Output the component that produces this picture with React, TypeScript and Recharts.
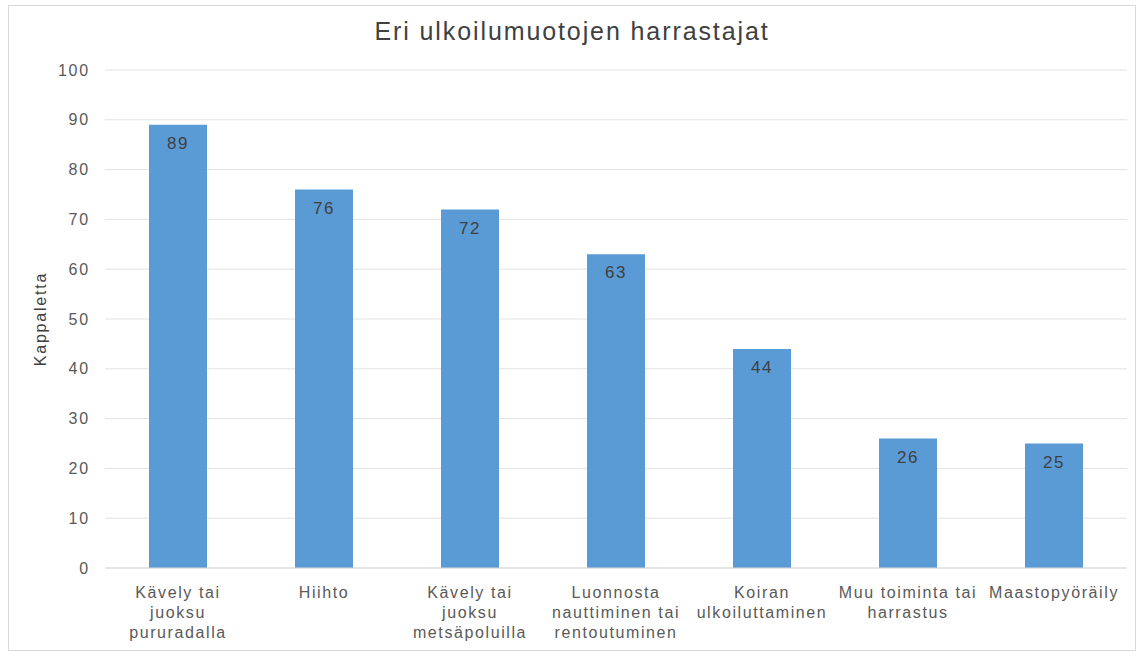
import React from 'react';
import { BarChart, Bar, XAxis, YAxis, CartesianGrid, LabelList, Label } from 'recharts';

const categories = [
  'Kävely tai\njuoksu\npururadalla',
  'Hiihto',
  'Kävely tai\njuoksu\nmetsäpoluilla',
  'Luonnosta\nnauttiminen tai\nrentoutuminen',
  'Koiran\nulkoiluttaminen',
  'Muu toiminta tai\nharrastus',
  'Maastopyöräily',
];
const values = [89, 76, 72, 63, 44, 26, 25];
const yTicks = [0, 10, 20, 30, 40, 50, 60, 70, 80, 90, 100];

const data = categories.map((c, i) => ({ name: c, value: values[i] }));

const FONT = '"Liberation Sans", Arial, sans-serif';

const XTick = (props: any) => {
  const { x, y, payload } = props;
  const lines = String(payload.value).split('\n');
  return (
    <text x={x} y={y} textAnchor="middle" fill="#595959" fontSize={16} fontFamily={FONT} style={{ letterSpacing: '1.6px' }}>
      {lines.map((l, i) => (
        <tspan key={i} x={x} dy={i === 0 ? 22 : 20}>{l}</tspan>
      ))}
    </text>
  );
};

export default function App() {
  return (
    <div style={{ position: 'absolute', left: 0, top: 0, width: 1144, height: 656, background: '#fff' }}>
      <div style={{ position: 'absolute', left: 8, top: 5, width: 1128, height: 646, border: '1px solid #d9d9d9', boxSizing: 'border-box' }} />
      <div style={{ position: 'absolute', left: 0, top: 17, width: 1144, textAlign: 'center', fontFamily: FONT, fontSize: 25, letterSpacing: '1.9px', color: '#404040', lineHeight: '29px' }}>
        Eri ulkoilumuotojen harrastajat
      </div>
      <div style={{ position: 'absolute', left: 0, top: 0 }}>
        <BarChart width={1144} height={656} data={data} margin={{ top: 70, right: 17, bottom: 8, left: 45 }} barSize={58}>
          <CartesianGrid vertical={false} stroke="#e3e3e3" />
          <XAxis dataKey="name" interval={0} height={80} tickLine={false} axisLine={{ stroke: '#d9d9d9' }} tick={<XTick />} />
          <YAxis
            domain={[0, 100]}
            ticks={yTicks}
            width={60}
            tickLine={false}
            axisLine={false}
            tickMargin={9}
            tick={{ fill: '#595959', fontSize: 16, fontFamily: FONT, style: { letterSpacing: '1.8px' } }}
          >
            <Label value="Kappaletta" angle={-90} position="insideLeft" dx={-10} style={{ textAnchor: 'middle', fill: '#404040', fontSize: 16, fontFamily: FONT, letterSpacing: '1.8px' }} />
          </YAxis>
          <Bar dataKey="value" fill="#5B9BD5" isAnimationActive={false}>
            <LabelList dataKey="value" position="insideTop" offset={12} fill="#404040" fontSize={17} fontFamily={FONT} style={{ letterSpacing: '1.5px' }} />
          </Bar>
        </BarChart>
      </div>
    </div>
  );
}
